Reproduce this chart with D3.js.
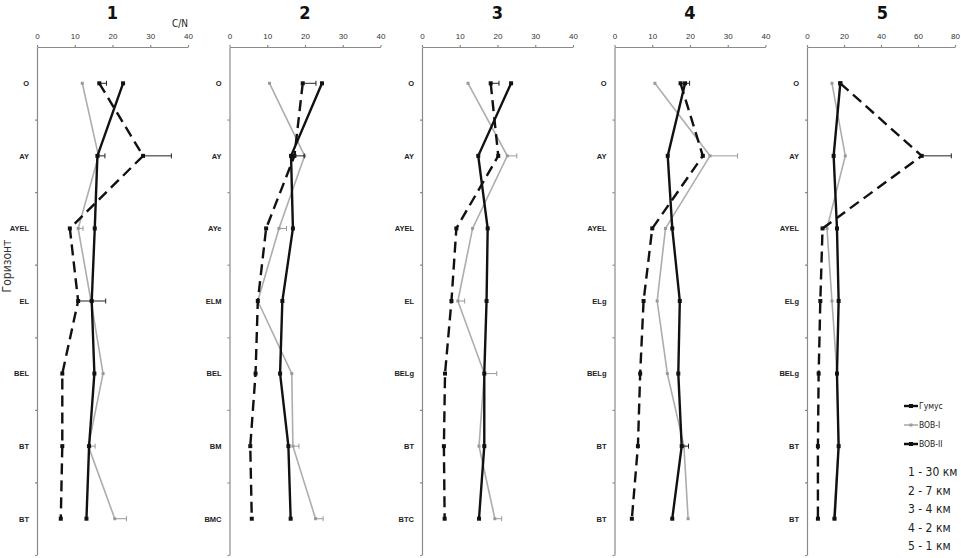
<!DOCTYPE html>
<html>
<head>
<meta charset="utf-8">
<script src="https://cdn.jsdelivr.net/npm/d3@7/dist/d3.min.js"></script>
<style>
  body { margin: 0; background: #fff; }
  svg { display: block; font-family: "DejaVu Sans", sans-serif; font-stretch: condensed; }
  .axis path, .axis line { stroke: #8a8a8a; stroke-width: 1.2; }
  .axis text { fill: #333; font-size: 8px; }
  .labels text { fill: #222; font-size: 7.5px; font-weight: bold; }
</style>
</head>
<body>
<div id="chart"></div>
<script>
// Panel titles and distance captions
const panels = ['1', '2', '3', '4', '5'];
const distances = ['1 - 30 км', '2 - 7 км', '3 - 4 км', '4 - 2 км', '5 - 1 км'];
const xMax = [40, 40, 40, 40, 80];
const xTicks = [[0, 10, 20, 30, 40], [0, 10, 20, 30, 40], [0, 10, 20, 30, 40], [0, 10, 20, 30, 40], [0, 20, 40, 60, 80]];

// Horizons of each profile (top to bottom)
const horizons = [
    ['O', 'AY', 'AYEL', 'EL', 'BEL', 'BT', 'BT'],
    ['O', 'AY', 'AYe', 'ELM', 'BEL', 'BM', 'BMC'],
    ['O', 'AY', 'AYEL', 'EL', 'BELg', 'BT', 'BTC'],
    ['O', 'AY', 'AYEL', 'ELg', 'BELg', 'BT', 'BT'],
    ['O', 'AY', 'AYEL', 'ELg', 'BELg', 'BT', 'BT']
];

// C/N values, one row per panel
const humus = [
    [22.8, 16.0, 15.3, 14.5, 15.2, 13.8, 13.1],
    [24.5, 16.3, 16.8, 14.0, 13.4, 15.6, 16.2],
    [23.6, 14.9, 17.4, 17.1, 16.5, 16.5, 15.1],
    [18.7, 14.1, 15.3, 17.3, 16.9, 17.8, 15.3],
    [18.0, 14.4, 16.2, 17.1, 16.2, 17.1, 14.9]
];
const bobI = [
    [12.0, 16.3, 10.9, 14.3, 17.5, 13.6, 20.6],
    [10.6, 19.9, 13.1, 7.5, 16.5, 16.8, 22.8],
    [12.2, 22.6, 13.4, 9.5, 16.5, 15.1, 19.3],
    [10.7, 25.3, 13.5, 11.3, 14.0, 18.4, 19.5],
    [13.5, 20.7, 10.8, 13.5, 16.2, 17.1, 14.4]
];
const bobII = [
    [16.5, 28.1, 8.7, 10.9, 6.7, 6.7, 6.3],
    [19.4, 17.2, 9.7, 7.5, 6.9, 5.5, 5.9],
    [18.2, 20.2, 9.1, 7.8, 6.1, 5.8, 6.0],
    [17.5, 23.4, 10.0, 7.7, 6.8, 6.2, 4.6],
    [18.0, 62.0, 8.4, 7.2, 6.3, 5.9, 5.9]
];

// Plus error bars
const errHumus = [
    [0, 2.0, 0, 0, 0, 0, 0],
    [0, 3.5, 0, 0, 0, 0, 0],
    [0, 0, 0, 0, 0, 0, 0],
    [0, 0, 0, 0, 0, 1.8, 0],
    [0, 0, 0, 0, 0, 0, 0]
];
const errBobI = [
    [0, 0, 1.3, 0, 0, 1.8, 3.1],
    [0, 0, 2.0, 0, 0, 1.6, 2.0],
    [0, 2.5, 0, 1.8, 3.3, 0, 1.8],
    [0, 7.3, 0, 0, 0, 0, 0],
    [0, 0, 0, 0, 0, 0, 0]
];
const errBobII = [
    [1.9, 7.5, 0, 7.3, 0, 0, 0],
    [3.5, 0, 0, 0, 0, 0, 0],
    [2.2, 0, 0, 0, 0, 0, 0],
    [2.4, 0, 0, 0, 0, 0, 0],
    [0, 16.0, 0, 0, 0, 0, 0]
];

const seriesNames = ['Гумус', 'BOB-I', 'BOB-II'];

const width = 961, height = 558;
const axisTop = 47, axisBottom = 555;
const panelWidth = 151;

const styles = [
    { stroke: '#111', width: 2.4, dash: null, marker: 16, fill: '#111' },
    { stroke: '#adadad', width: 1.6, dash: null, marker: 9, fill: '#999' },
    { stroke: '#111', width: 2.4, dash: '11,6', marker: 16, fill: '#111' }
];

const svg = d3.select('#chart').append('svg')
    .attr('width', width).attr('height', height);

const y = d3.scaleLinear().domain([0, 7]).range([axisTop, axisBottom]);

panels.forEach((title, p) => {
    const left = 37 + p * 192.5;
    const pw = p === 4 ? 148 : panelWidth;
    const x = d3.scaleLinear().domain([0, xMax[p]]).range([left, left + pw]);
    const g = svg.append('g');

    // Title
    g.append('text')
        .attr('x', left + panelWidth / 2).attr('y', 19)
        .attr('text-anchor', 'middle')
        .attr('font-size', 18).attr('font-weight', 'bold')
        .attr('fill', '#111')
        .text(title);

    // Top axis
    g.append('g')
        .attr('class', 'axis')
        .attr('transform', `translate(0,${axisTop})`)
        .call(d3.axisTop(x).tickValues(xTicks[p]).tickSize(2).tickSizeOuter(0).tickPadding(6));

    // Left axis: ticks between horizons
    g.append('g')
        .attr('class', 'axis')
        .attr('transform', `translate(${left},0)`)
        .call(d3.axisLeft(y).tickValues(d3.range(1, 8)).tickSize(2).tickSizeOuter(0).tickFormat(''));

    // Horizon labels
    g.append('g')
        .attr('class', 'labels')
        .attr('transform', `translate(${left},0)`)
        .call(d3.axisLeft(y).tickValues(d3.range(7).map(i => i + 0.5)).tickSize(0).tickPadding(8)
            .tickFormat((d, i) => horizons[p][i]))
        .call(a => a.select('.domain').remove());

    const sets = [
        { vals: humus[p], errs: errHumus[p] },
        { vals: bobI[p], errs: errBobI[p] },
        { vals: bobII[p], errs: errBobII[p] }
    ];

    const line = d3.line()
        .x(d => x(d.v))
        .y(d => y(d.i + 0.5));

    // draw grey first, then dashed, then humus on top
    [1, 2, 0].forEach(s => {
        const st = styles[s];
        const data = sets[s].vals.map((v, i) => ({ v, i, e: sets[s].errs[i] }));

        // error bars
        const eb = g.append('g').selectAll('g')
            .data(data.filter(d => d.e > 0))
            .enter().append('g')
            .attr('stroke', s === 1 ? '#999' : '#222')
            .attr('stroke-width', 1);
        eb.append('line')
            .attr('x1', d => x(d.v)).attr('x2', d => x(d.v + d.e))
            .attr('y1', d => y(d.i + 0.5)).attr('y2', d => y(d.i + 0.5));
        eb.append('line')
            .attr('x1', d => x(d.v + d.e)).attr('x2', d => x(d.v + d.e))
            .attr('y1', d => y(d.i + 0.5) - 2.5).attr('y2', d => y(d.i + 0.5) + 2.5);

        g.append('path')
            .datum(data)
            .attr('fill', 'none')
            .attr('stroke', st.stroke)
            .attr('stroke-width', st.width)
            .attr('stroke-dasharray', st.dash)
            .attr('d', line);

        g.append('g').selectAll('path')
            .data(data)
            .enter().append('path')
            .attr('transform', d => `translate(${x(d.v)},${y(d.i + 0.5)})`)
            .attr('d', d3.symbol(d3.symbolSquare, st.marker))
            .attr('fill', st.fill);
    });
});

// C/N axis title
svg.append('text')
    .attr('x', 180).attr('y', 27)
    .attr('text-anchor', 'middle')
    .attr('font-size', 10)
    .attr('fill', '#222')
    .text('C/N');

// Y axis title
svg.append('text')
    .attr('transform', 'translate(11,266) rotate(-90)')
    .attr('text-anchor', 'middle')
    .attr('font-size', 12)
    .attr('fill', '#333')
    .text('Горизонт');

// Legend
const legend = svg.append('g').attr('transform', 'translate(904,406)');
seriesNames.forEach((name, s) => {
    const st = styles[s];
    const row = legend.append('g').attr('transform', `translate(0,${s * 19})`);
    row.append('line')
        .attr('x1', 0).attr('x2', 14)
        .attr('stroke', st.stroke)
        .attr('stroke-width', st.width)
        .attr('stroke-dasharray', s === 2 ? '6,3' : null);
    row.append('path')
        .attr('transform', 'translate(7,0)')
        .attr('d', d3.symbol(d3.symbolSquare, st.marker))
        .attr('fill', st.fill);
    row.append('text')
        .attr('x', 15).attr('y', 3)
        .attr('font-size', 8.5)
        .attr('fill', '#222')
        .text(name);
});

svg.append('g').selectAll('text')
    .data(distances)
    .enter().append('text')
    .attr('x', 908)
    .attr('y', (d, i) => 476 + i * 18.5)
    .attr('font-size', 12)
    .attr('fill', '#222')
    .text(d => d);
</script>
</body>
</html>
